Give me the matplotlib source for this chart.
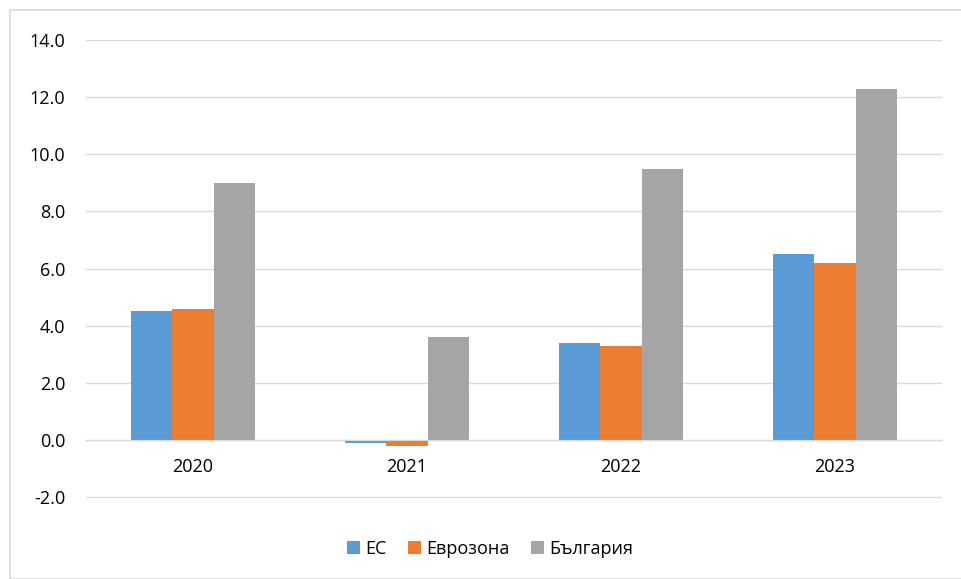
import numpy as np
import matplotlib.pyplot as plt
from matplotlib.patches import Rectangle

# Данни
years = ['2020', '2021', '2022', '2023']
ec = [4.5, -0.1, 3.4, 6.5]
eurozone = [4.6, -0.2, 3.3, 6.2]
bulgaria = [9.0, 3.6, 9.5, 12.3]
series_names = ['ЕС', 'Еврозона', 'България']
colors = ['#5B9BD5', '#ED7D31', '#A5A5A5']

plt.rcParams['font.family'] = ['Open Sans', 'DejaVu Sans']

fig = plt.figure(figsize=(9.62, 5.79), dpi=100)
ax = fig.add_axes([86 / 962, 1 - 498 / 579, 856 / 962, 458 / 579])

# рамка около диаграмата
fig.patches.append(Rectangle((10 / 962, 0), 1, 1 - 10 / 579, transform=fig.transFigure,
                             fill=False, edgecolor='#D9D9D9', linewidth=1.2))

x = np.arange(len(years))
w = 0.192
for i, (vals, name, c) in enumerate(zip([ec, eurozone, bulgaria], series_names, colors)):
    ax.bar(x + (i - 1) * w, vals, width=w, color=c, label=name, zorder=3)

ax.set_xlim(-0.5, 3.5)
ax.set_ylim(-2.03, 14)
ax.set_yticks(np.arange(-2, 15, 2))
ax.set_yticklabels([f'{v:.1f}' for v in np.arange(-2, 15, 2)])
ax.set_xticks(x)
ax.set_xticklabels(years)
ax.grid(axis='y', color='#D9D9D9', linewidth=1, zorder=0)

for s in ['top', 'right', 'left']:
    ax.spines[s].set_visible(False)
ax.spines['bottom'].set_position(('data', 0))
ax.spines['bottom'].set_color('#D9D9D9')
ax.spines['bottom'].set_zorder(4)
ax.tick_params(axis='both', length=0, labelsize=13, colors='#000000')
ax.tick_params(axis='x', pad=13)
ax.tick_params(axis='y', pad=15)

ax.legend(loc='center', bbox_to_anchor=(404 / 856, -0.111), ncol=3, frameon=False,
          fontsize=13, handlelength=0.7, handleheight=0.7, handletextpad=0.3, columnspacing=1.2)

fig.savefig('out.png', dpi=100)
